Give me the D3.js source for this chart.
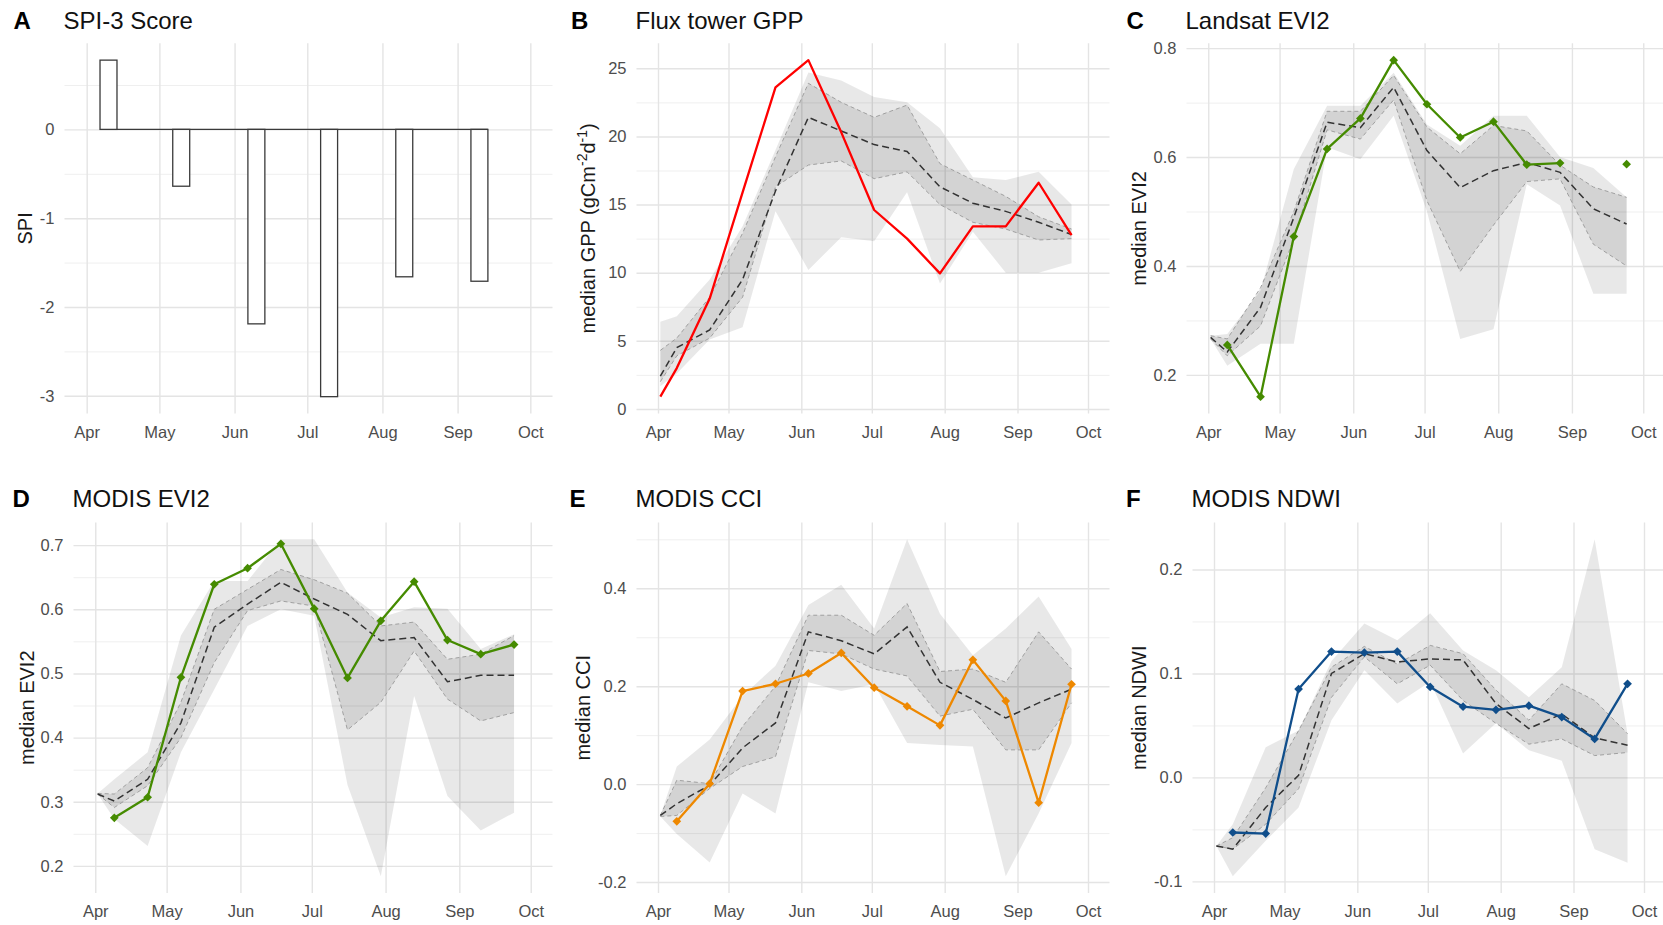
<!DOCTYPE html>
<html>
<head>
<meta charset="utf-8">
<script src="https://cdn.jsdelivr.net/npm/d3@7"></script>
<style>
  html, body { margin: 0; padding: 0; background: #ffffff; }
  svg { display: block; font-family: "Liberation Sans", Arial, sans-serif; }
</style>
</head>
<body>
<svg id="fig" width="1663" height="925"></svg>
<script>
// ---------------------------------------------------------------------------
// Season axis
const monthTicks  = ["2018-04-01", "2018-05-01", "2018-06-01", "2018-07-01", "2018-08-01", "2018-09-01", "2018-10-01"];
const monthLabels = ["Apr", "May", "Jun", "Jul", "Aug", "Sep", "Oct"];

// Bi-weekly composite dates (climatology) and the dates observed in the drought year
const climDates = ["2018-04-02", "2018-04-09", "2018-04-23", "2018-05-07", "2018-05-21", "2018-06-04", "2018-06-18",
                   "2018-07-02", "2018-07-16", "2018-07-30", "2018-08-13", "2018-08-27", "2018-09-10", "2018-09-24"];
const obsDates  = climDates.slice(1);

// A: SPI-3 score (monthly)
const spiDates  = ["2018-04-10", "2018-05-10", "2018-06-10", "2018-07-10", "2018-08-10", "2018-09-10"];
const spiValues = [0.78, -0.64, -2.19, -3.01, -1.66, -1.71];
const spiTicks  = [-3, -2, -1, 0];
const spiTickLabels = ["-3", "-2", "-1", "0"];

// B: flux tower GPP
const gppObs = [0.9, 3.0, 8.1, 15.9, 23.6, 25.6, 20.3, 14.6, 12.5, 9.95, 13.4, 13.4, 16.6, 12.75];
const gppMed = [2.4, 4.5, 5.8, 9.5, 16.0, 21.4, 20.4, 19.4, 18.9, 16.3, 15.1, 14.5, 13.7, 12.8];
const gppQ1  = [2.0, 3.9, 5.2, 8.2, 16.3, 17.9, 18.2, 16.9, 17.4, 15.0, 13.7, 13.2, 12.4, 12.5];
const gppQ3  = [4.3, 5.2, 8.2, 12.9, 18.5, 23.9, 22.5, 21.4, 22.3, 18.0, 16.8, 15.6, 14.1, 13.2];
const gppMin = [1.66, 2.6, 5.1, 6.0, 14.5, 10.2, 12.6, 12.3, 15.9, 9.2, 13.0, 10.0, 10.0, 10.7];
const gppMax = [6.4, 6.8, 9.5, 13.4, 19.0, 24.7, 24.1, 22.9, 22.5, 20.6, 17.0, 16.8, 17.4, 15.0];
const gppTicks = [0, 5, 10, 15, 20, 25];
const gppTickLabels = ["0", "5", "10", "15", "20", "25"];

// C: Landsat EVI2
const lsEviObs = [0.255, 0.160, 0.454, 0.615, 0.671, 0.778, 0.697, 0.636, 0.665, 0.586, 0.589, null, 0.587];
const lsEviMed = [0.269, 0.242, 0.324, 0.489, 0.664, 0.654, 0.728, 0.612, 0.544, 0.575, 0.590, 0.572, 0.505, 0.477];
const lsEviQ1  = [0.266, 0.235, 0.290, 0.450, 0.650, 0.633, 0.705, 0.520, 0.390, 0.475, 0.555, 0.560, 0.440, 0.400];
const lsEviQ3  = [0.272, 0.266, 0.360, 0.500, 0.684, 0.684, 0.750, 0.655, 0.606, 0.658, 0.648, 0.585, 0.545, 0.526];
const lsEviMin = [0.266, 0.217, 0.257, 0.257, 0.618, 0.596, 0.676, 0.500, 0.266, 0.284, 0.550, 0.511, 0.349, 0.349];
const lsEviMax = [0.272, 0.275, 0.355, 0.578, 0.694, 0.694, 0.755, 0.660, 0.621, 0.676, 0.676, 0.600, 0.580, 0.526];
const lsEviTicks = [0.2, 0.4, 0.6, 0.8];
const lsEviTickLabels = ["0.2", "0.4", "0.6", "0.8"];

// D: MODIS EVI2
const mEviObs = [0.275, 0.307, 0.494, 0.639, 0.664, 0.702, 0.601, 0.493, 0.582, 0.643, 0.552, 0.530, 0.545];
const mEviMed = [0.312, 0.301, 0.335, 0.423, 0.572, 0.608, 0.642, 0.616, 0.592, 0.551, 0.556, 0.487, 0.497, 0.497];
const mEviQ1  = [0.312, 0.291, 0.325, 0.400, 0.517, 0.598, 0.613, 0.605, 0.412, 0.455, 0.535, 0.460, 0.426, 0.439];
const mEviQ3  = [0.313, 0.312, 0.353, 0.455, 0.600, 0.631, 0.662, 0.646, 0.625, 0.574, 0.580, 0.522, 0.530, 0.559];
const mEviMin = [0.312, 0.273, 0.231, 0.377, 0.475, 0.574, 0.600, 0.590, 0.326, 0.184, 0.465, 0.309, 0.255, 0.283];
const mEviMax = [0.313, 0.335, 0.377, 0.559, 0.644, 0.644, 0.709, 0.709, 0.626, 0.587, 0.603, 0.601, 0.538, 0.561];
const mEviTicks = [0.2, 0.3, 0.4, 0.5, 0.6, 0.7];
const mEviTickLabels = ["0.2", "0.3", "0.4", "0.5", "0.6", "0.7"];

// E: MODIS CCI
const cciObs = [-0.076, 0.001, 0.190, 0.205, 0.226, 0.268, 0.197, 0.159, 0.120, 0.254, 0.170, -0.038, 0.204];
const cciMed = [-0.064, -0.040, -0.002, 0.074, 0.125, 0.311, 0.293, 0.266, 0.321, 0.208, 0.173, 0.135, 0.166, 0.194];
const cciQ1  = [-0.066, -0.064, -0.009, 0.036, 0.056, 0.273, 0.266, 0.235, 0.221, 0.139, 0.153, 0.070, 0.070, 0.166];
const cciQ3  = [-0.064, 0.008, 0.001, 0.118, 0.200, 0.345, 0.345, 0.304, 0.369, 0.230, 0.235, 0.208, 0.311, 0.235];
const cciMin = [-0.066, -0.102, -0.160, -0.019, -0.060, 0.208, 0.190, 0.204, 0.084, 0.080, 0.077, -0.188, -0.060, 0.084];
const cciMax = [-0.064, 0.036, 0.091, 0.180, 0.242, 0.366, 0.407, 0.318, 0.500, 0.348, 0.263, 0.318, 0.383, 0.276];
const cciTicks = [-0.2, 0.0, 0.2, 0.4];
const cciTickLabels = ["-0.2", "0.0", "0.2", "0.4"];

// F: MODIS NDWI
const ndwiObs = [-0.053, -0.054, 0.085, 0.121, 0.120, 0.121, 0.087, 0.068, 0.065, 0.069, 0.058, 0.037, 0.090];
const ndwiMed = [-0.066, -0.069, -0.029, 0.002, 0.100, 0.119, 0.111, 0.114, 0.113, 0.071, 0.047, 0.061, 0.038, 0.031];
const ndwiQ1  = [-0.066, -0.069, -0.045, -0.011, 0.077, 0.116, 0.090, 0.108, 0.074, 0.052, 0.032, 0.037, 0.021, 0.024];
const ndwiQ3  = [-0.066, -0.058, -0.010, 0.045, 0.106, 0.126, 0.109, 0.127, 0.119, 0.084, 0.055, 0.090, 0.074, 0.042];
const ndwiMin = [-0.066, -0.095, -0.061, -0.029, 0.055, 0.103, 0.071, 0.092, 0.023, 0.052, 0.026, 0.016, -0.069, -0.082];
const ndwiMax = [-0.066, -0.045, 0.029, 0.045, 0.112, 0.148, 0.132, 0.158, 0.122, 0.103, 0.077, 0.106, 0.229, 0.042];
const ndwiTicks = [-0.1, 0.0, 0.1, 0.2];
const ndwiTickLabels = ["-0.1", "0.0", "0.1", "0.2"];

// ---------------------------------------------------------------------------
const svg = d3.select("#fig");
const parseDay = d3.utcParse("%Y-%m-%d");
const DAY = 864e5;
const seasonStart = parseDay(monthTicks[0]);
const seasonEnd = parseDay(monthTicks[monthTicks.length - 1]);
const xPad = (seasonEnd - seasonStart) * 0.05;
const xDomain = [new Date(+seasonStart - xPad), new Date(+seasonEnd + xPad)];

const TICK_COLOR = "#4d4d4d";
const MAJOR_GRID = "#e4e4e4";
const MINOR_GRID = "#efefef";

function paddedDomain(arrays) {
  const vals = arrays.flat().filter(v => v != null);
  const lo = d3.min(vals), hi = d3.max(vals);
  const p = (hi - lo) * 0.05;
  return [lo - p, hi + p];
}

// Sets up one panel: scales, grid, axes, titles. Returns the scales and the plot group.
function panel(cfg) {
  const g = svg.append("g");
  const x = d3.scaleUtc().domain(xDomain).range([cfg.left, cfg.right]);
  const y = d3.scaleLinear().domain(cfg.yDomain).range([cfg.bottom, cfg.top]);
  const width = cfg.right - cfg.left;
  const height = cfg.bottom - cfg.top;

  // minor horizontal grid: midway between major ticks
  const step = cfg.yTicks[1] - cfg.yTicks[0];
  const minors = [cfg.yTicks[0] - step / 2, ...cfg.yTicks.map(t => t + step / 2)]
    .filter(v => v >= cfg.yDomain[0] && v <= cfg.yDomain[1]);
  g.append("g")
    .attr("transform", `translate(${cfg.left},0)`)
    .call(d3.axisLeft(y).tickValues(minors).tickSize(-width).tickFormat(""))
    .call(s => s.select(".domain").remove())
    .call(s => s.selectAll("line").attr("stroke", MINOR_GRID).attr("stroke-width", 1));

  // major horizontal grid
  g.append("g")
    .attr("transform", `translate(${cfg.left},0)`)
    .call(d3.axisLeft(y).tickValues(cfg.yTicks).tickSize(-width).tickFormat(""))
    .call(s => s.select(".domain").remove())
    .call(s => s.selectAll("line").attr("stroke", MAJOR_GRID).attr("stroke-width", 1.4));

  // vertical month grid
  const months = monthTicks.map(parseDay);
  g.append("g")
    .attr("transform", `translate(0,${cfg.bottom})`)
    .call(d3.axisBottom(x).tickValues(months).tickSize(-height).tickFormat(""))
    .call(s => s.select(".domain").remove())
    .call(s => s.selectAll("line").attr("stroke", MAJOR_GRID).attr("stroke-width", 1.4));

  // y tick labels
  g.append("g")
    .attr("transform", `translate(${cfg.left},0)`)
    .call(d3.axisLeft(y).tickValues(cfg.yTicks).tickSize(0).tickPadding(10)
      .tickFormat((d, i) => cfg.yTickLabels[i]))
    .call(s => s.select(".domain").remove())
    .call(s => s.selectAll("text").attr("fill", TICK_COLOR).attr("font-size", "16.5px")
      .attr("font-family", "'Liberation Sans', Arial, sans-serif"));

  // x tick labels
  g.append("g")
    .attr("transform", `translate(0,${cfg.bottom})`)
    .call(d3.axisBottom(x).tickValues(months).tickSize(0).tickPadding(12.3)
      .tickFormat((d, i) => monthLabels[i]))
    .call(s => s.select(".domain").remove())
    .call(s => s.selectAll("text").attr("fill", TICK_COLOR).attr("font-size", "16.5px")
      .attr("font-family", "'Liberation Sans', Arial, sans-serif"));

  // y axis title
  const yt = svg.append("text")
    .attr("transform", `translate(${cfg.ylabX},${(cfg.top + cfg.bottom) / 2}) rotate(-90)`)
    .attr("text-anchor", "middle")
    .attr("font-size", "20px")
    .attr("fill", "#1a1a1a");
  cfg.ylab.forEach(part => {
    const t = yt.append("tspan").text(part.t);
    if (part.sup) t.attr("font-size", "14px").attr("dy", "-8");
    if (part.down) t.attr("dy", "8");
  });

  // panel letter and title
  svg.append("text").attr("x", cfg.letterX).attr("y", cfg.titleY)
    .attr("font-size", "24px").attr("font-weight", "bold").attr("fill", "#000").text(cfg.letter);
  svg.append("text").attr("x", cfg.left - 1).attr("y", cfg.titleY)
    .attr("font-size", "24px").attr("fill", "#111").text(cfg.title);

  return { g, x, y };
}

// Climatology bands, median and the observed series of one index
function seriesPanel(cfg, s) {
  const { g, x, y } = panel(cfg);
  const clim = climDates.map((d, i) => ({
    date: parseDay(d), med: s.med[i], q1: s.q1[i], q3: s.q3[i], lo: s.min[i], hi: s.max[i]
  }));
  const obsD = s.obsDates.map((d, i) => ({ date: parseDay(d), v: s.obs[i] }));

  g.append("path").datum(clim)
    .attr("d", d3.area().x(d => x(d.date)).y0(d => y(d.lo)).y1(d => y(d.hi)))
    .attr("fill", "#000").attr("fill-opacity", 0.09);
  g.append("path").datum(clim)
    .attr("d", d3.area().x(d => x(d.date)).y0(d => y(d.q1)).y1(d => y(d.q3)))
    .attr("fill", "#000").attr("fill-opacity", 0.09);
  ["q1", "q3"].forEach(k => {
    g.append("path").datum(clim)
      .attr("d", d3.line().x(d => x(d.date)).y(d => y(d[k])))
      .attr("fill", "none").attr("stroke", "#a0a0a0").attr("stroke-width", 1)
      .attr("stroke-dasharray", "4,3");
  });
  g.append("path").datum(clim)
    .attr("d", d3.line().x(d => x(d.date)).y(d => y(d.med)))
    .attr("fill", "none").attr("stroke", "#333").attr("stroke-width", 1.5)
    .attr("stroke-dasharray", "7,4");

  g.append("path").datum(obsD)
    .attr("d", d3.line().defined(d => d.v != null).x(d => x(d.date)).y(d => y(d.v)))
    .attr("fill", "none").attr("stroke", s.color).attr("stroke-width", 2.3)
    .attr("stroke-linejoin", "round");

  if (s.markers) {
    const sym = d3.symbol(d3.symbolSquare, 38);
    g.selectAll("path.pt").data(obsD.filter(d => d.v != null)).join("path")
      .attr("class", "pt")
      .attr("d", sym)
      .attr("transform", d => `translate(${x(d.date)},${y(d.v)}) rotate(45)`)
      .attr("fill", s.color);
  }
}

// ---------------------------------------------------------------------------
// A: SPI-3 bars
(function () {
  const cfg = {
    left: 64.5, right: 552.5, top: 43.3, bottom: 413.5, titleY: 29,
    letter: "A", letterX: 13.5, title: "SPI-3 Score",
    ylabX: 31.5, ylab: [{ t: "SPI" }],
    yTicks: spiTicks, yTickLabels: spiTickLabels,
    yDomain: paddedDomain([spiValues, [0]])
  };
  const { g, x, y } = panel(cfg);
  const bars = spiDates.map((d, i) => ({ date: parseDay(d), v: spiValues[i] }));
  const half = 3.5 * DAY;
  g.append("line")
    .attr("x1", x(new Date(+bars[0].date - half)))
    .attr("x2", x(new Date(+bars[bars.length - 1].date + half)))
    .attr("y1", y(0)).attr("y2", y(0))
    .attr("stroke", "#3a3a3a").attr("stroke-width", 1.3);
  g.selectAll("rect.bar").data(bars).join("rect")
    .attr("class", "bar")
    .attr("x", d => x(new Date(+d.date - half)))
    .attr("width", d => x(new Date(+d.date + half)) - x(new Date(+d.date - half)))
    .attr("y", d => y(Math.max(0, d.v)))
    .attr("height", d => Math.abs(y(d.v) - y(0)))
    .attr("fill", "#fff").attr("stroke", "#3a3a3a").attr("stroke-width", 1.3);
})();

// B: GPP
seriesPanel({
  left: 636.5, right: 1109.5, top: 43.3, bottom: 413.5, titleY: 29,
  letter: "B", letterX: 571, title: "Flux tower GPP",
  ylabX: 595,
  ylab: [{ t: "median GPP (gCm" }, { t: "-2", sup: true }, { t: "d", down: true }, { t: "-1", sup: true }, { t: ")", down: true }],
  yTicks: gppTicks, yTickLabels: gppTickLabels,
  yDomain: paddedDomain([gppObs, gppMin, gppMax])
}, { obs: gppObs, obsDates: climDates, med: gppMed, q1: gppQ1, q3: gppQ3, min: gppMin, max: gppMax,
     color: "#ff0000", markers: false });

// C: Landsat EVI2
seriesPanel({
  left: 1186.5, right: 1665, top: 43.3, bottom: 413.5, titleY: 29,
  letter: "C", letterX: 1126.5, title: "Landsat EVI2",
  ylabX: 1146, ylab: [{ t: "median EVI2" }],
  yTicks: lsEviTicks, yTickLabels: lsEviTickLabels,
  yDomain: paddedDomain([lsEviObs, lsEviMin, lsEviMax])
}, { obs: lsEviObs, obsDates: obsDates, med: lsEviMed, q1: lsEviQ1, q3: lsEviQ3, min: lsEviMin, max: lsEviMax,
     color: "#458b00", markers: true });

// D: MODIS EVI2
seriesPanel({
  left: 73.5, right: 552.5, top: 522.5, bottom: 893, titleY: 507,
  letter: "D", letterX: 12.5, title: "MODIS EVI2",
  ylabX: 33.5, ylab: [{ t: "median EVI2" }],
  yTicks: mEviTicks, yTickLabels: mEviTickLabels,
  yDomain: paddedDomain([mEviObs, mEviMin, mEviMax])
}, { obs: mEviObs, obsDates: obsDates, med: mEviMed, q1: mEviQ1, q3: mEviQ3, min: mEviMin, max: mEviMax,
     color: "#458b00", markers: true });

// E: MODIS CCI
seriesPanel({
  left: 636.5, right: 1109.5, top: 522.5, bottom: 893, titleY: 507,
  letter: "E", letterX: 569.5, title: "MODIS CCI",
  ylabX: 590, ylab: [{ t: "median CCI" }],
  yTicks: cciTicks, yTickLabels: cciTickLabels,
  yDomain: paddedDomain([cciObs, cciMin, cciMax])
}, { obs: cciObs, obsDates: obsDates, med: cciMed, q1: cciQ1, q3: cciQ3, min: cciMin, max: cciMax,
     color: "#ee8800", markers: true });

// F: MODIS NDWI
seriesPanel({
  left: 1192.5, right: 1665.5, top: 522.5, bottom: 893, titleY: 507,
  letter: "F", letterX: 1126, title: "MODIS NDWI",
  ylabX: 1146, ylab: [{ t: "median NDWI" }],
  yTicks: ndwiTicks, yTickLabels: ndwiTickLabels,
  yDomain: paddedDomain([ndwiObs, ndwiMin, ndwiMax])
}, { obs: ndwiObs, obsDates: obsDates, med: ndwiMed, q1: ndwiQ1, q3: ndwiQ3, min: ndwiMin, max: ndwiMax,
     color: "#104e8b", markers: true });
</script>
</body>
</html>
